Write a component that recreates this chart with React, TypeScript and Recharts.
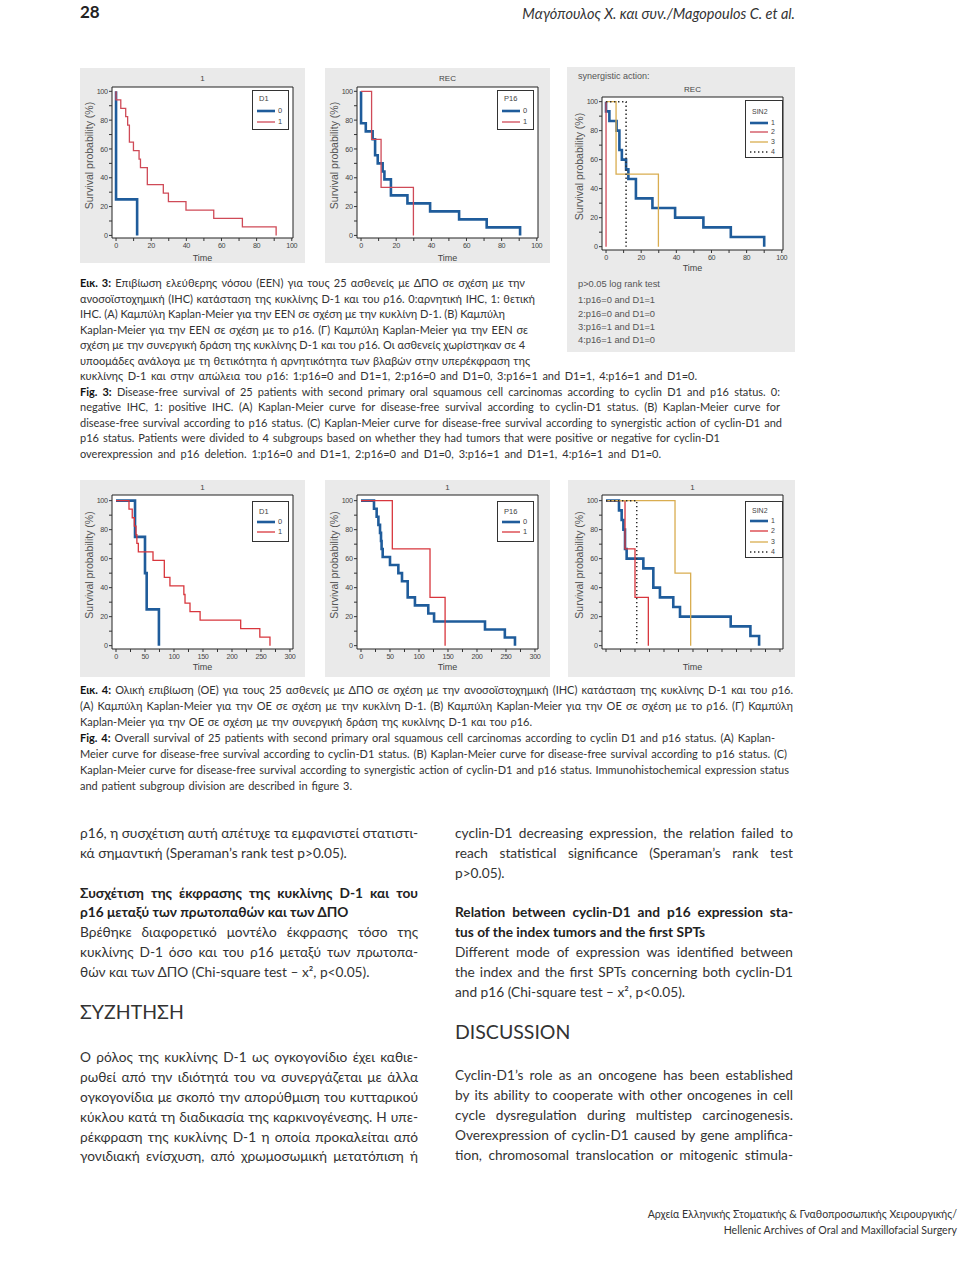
import React from 'react';
import { LineChart, Line, XAxis, YAxis, CartesianGrid, ReferenceArea, Legend } from 'recharts';

const PLOT_FONT = "'Liberation Sans', Arial, Helvetica, sans-serif";
const TEXT_FONT = "Lato, 'Noto Sans', 'Open Sans', sans-serif";

const BLUE = '#1f5c9b';
const RED = '#cf4a57';
const RED_OS = '#d8363d';
const GOLD = '#d9ad50';
const DOTS = '#2a2a2a';
const PANEL_BG = '#eaeaea';

// ---------- Fig. 3: disease-free survival (time, survival %) ----------
const dfsD1Neg = [[0, 100], [0, 25], [12, 0]];
const dfsD1Pos = [[0, 100], [0, 94.1], [2.7, 88.2], [5.5, 82.4], [6.6, 76.5], [7.6, 64.7], [9.9, 58.8], [13.1, 52.9], [13.9, 47.1], [17.8, 35.3], [26.9, 29.4], [29.8, 23.5], [39.8, 17.6], [55.6, 11.8], [71.9, 5.9], [91.1, 0]];
const dfsP16Neg = [[0, 100], [0, 77.8], [2.7, 72.2], [6.6, 66.7], [8, 55.6], [9.5, 50], [12.3, 44.4], [13.3, 38.9], [17, 27.8], [26.4, 22.2], [39.3, 16.7], [55.8, 11.1], [71.5, 5.6], [90.5, 0]];
const dfsP16Pos = [[0, 100], [6, 66.7], [11.4, 33.3], [29.8, 0]];
const dfsSin1 = [[0, 100], [0, 93.3], [1.9, 86.7], [6, 80], [7.6, 66.7], [9, 60], [11.4, 53.3], [12.7, 46.7], [17, 33.3], [26.4, 26.7], [39.3, 20], [55.4, 13.3], [71, 6.7], [90, 0]];
const dfsSin2 = [[0, 100], [0, 0]];
const dfsSin3 = [[0, 100], [5.7, 50], [29.8, 0]];
const dfsSin4 = [[0, 100], [11.4, 0]];

// ---------- Fig. 4: overall survival ----------
const osD1Neg = [[0, 100], [32.8, 75], [50, 50], [52.9, 25], [74, 0]];
const osD1Pos = [[0, 100], [22.4, 94.1], [28, 88.2], [31.6, 82.4], [34.5, 76.5], [36, 70.6], [38.5, 64.7], [63.8, 58.8], [83.3, 47.1], [93, 41.2], [117, 35.3], [119, 29.4], [127.6, 23.5], [145, 17.6], [215, 11.8], [248, 5.9], [265.5, 0]];
const osP16Neg = [[0, 100], [22.4, 94.4], [27, 88.9], [30, 83.3], [32.8, 77.8], [34.5, 72.2], [35.5, 66.7], [37.4, 61.1], [50, 55.6], [64.4, 50], [70.7, 44.4], [80.5, 33.3], [93, 27.8], [116, 22.2], [126, 16.7], [213.8, 11.1], [248, 5.6], [265.5, 0]];
const osP16Pos = [[0, 100], [54, 66.7], [119, 33.3], [145, 0]];
const osSin1 = [[0, 100], [22.4, 93.3], [27, 86.7], [30, 80], [32.8, 66.7], [35.6, 60], [64.4, 53.3], [81.6, 40], [93, 33.3], [116, 26.7], [127.6, 20], [215, 13.3], [249, 6.7], [264, 0]];
const osSin2 = [[0, 100], [32.8, 66.7], [50, 33.3], [73, 0]];
const osSin3 = [[0, 100], [119, 50], [146, 0]];
const osSin4 = [[0, 100], [53, 0]];

const Y_TICKS = [0, 10, 20, 30, 40, 50, 60, 70, 80, 90, 100];
const X_TICKS_DFS = [0, 10, 20, 30, 40, 50, 60, 70, 80, 90, 100];
const X_TICKS_OS = [0, 25, 50, 75, 100, 125, 150, 175, 200, 225, 250, 275, 300];

const toPts = (a: number[][]) => a.map(([t, s]) => ({ t, s }));

type Series = { name: string; data: number[][]; color: string; width: number; dash?: string };
type LegendBox = { left: number; top: number; w: number; h: number; titleY: number; rowY: number; step: number; fs: number };
type PanelDef = {
  x: number; y: number; w: number; h: number;
  m: { top: number; right: number; left: number; bottom: number };
  xDomain: [number, number]; yDomain: [number, number];
  xTicks: number[]; xStep: number; xLabels: boolean; timeOffset: number;
  title: string; titleY: number; legendTitle: string; legend: LegendBox; series: Series[];
  yLabelX: number;
};

const DFS_X: [number, number] = [-2.3, 100.7];
const OS_X: [number, number] = [-6.9, 305.2];

const panels: PanelDef[] = [
  {
    x: 80, y: 68, w: 225, h: 195, m: { top: 19, right: 12, left: 32, bottom: 25 },
    xDomain: DFS_X, yDomain: [-1.8, 103], xTicks: X_TICKS_DFS, xStep: 20, xLabels: true, timeOffset: 2,
    title: '1', titleY: 11, legendTitle: 'D1', yLabelX: 9,
    legend: { left: 172, top: 22, w: 37, h: 40, titleY: 8.3, rowY: 20, step: 10.7, fs: 7.5 },
    series: [
      { name: '0', data: dfsD1Neg, color: BLUE, width: 2.6 },
      { name: '1', data: dfsD1Pos, color: RED, width: 1.3 },
    ],
  },
  {
    x: 325, y: 68, w: 225, h: 195, m: { top: 19, right: 12, left: 32, bottom: 25 },
    xDomain: DFS_X, yDomain: [-1.8, 103], xTicks: X_TICKS_DFS, xStep: 20, xLabels: true, timeOffset: 2,
    title: 'REC', titleY: 11, legendTitle: 'P16', yLabelX: 9,
    legend: { left: 172, top: 22, w: 37, h: 40, titleY: 8.3, rowY: 20, step: 10.7, fs: 7.5 },
    series: [
      { name: '0', data: dfsP16Neg, color: BLUE, width: 2.6 },
      { name: '1', data: dfsP16Pos, color: RED, width: 1.3 },
    ],
  },
  {
    x: 567, y: 67, w: 228, h: 213, m: { top: 30, right: 12, left: 35, bottom: 30 },
    xDomain: DFS_X, yDomain: [-2.3, 103.2], xTicks: X_TICKS_DFS, xStep: 20, xLabels: true, timeOffset: 9,
    title: 'REC', titleY: 23, legendTitle: 'SIN2', yLabelX: 12,
    legend: { left: 178, top: 33, w: 38, h: 58, titleY: 11, rowY: 21.5, step: 9.8, fs: 7 },
    series: [
      { name: '1', data: dfsSin1, color: BLUE, width: 2.6 },
      { name: '2', data: dfsSin2, color: RED, width: 1.3 },
      { name: '3', data: dfsSin3, color: GOLD, width: 1.3 },
      { name: '4', data: dfsSin4, color: DOTS, width: 1.5, dash: '1.4 2.6' },
    ],
  },
  {
    x: 80, y: 480, w: 225, h: 197, m: { top: 15, right: 12, left: 32, bottom: 28 },
    xDomain: OS_X, yDomain: [-2.3, 103.9], xTicks: X_TICKS_OS, xStep: 50, xLabels: true, timeOffset: 6.7,
    title: '1', titleY: 8, legendTitle: 'D1', yLabelX: 9,
    legend: { left: 172, top: 21, w: 37, h: 41, titleY: 10, rowY: 20, step: 10, fs: 7.5 },
    series: [
      { name: '0', data: osD1Neg, color: BLUE, width: 2.6 },
      { name: '1', data: osD1Pos, color: RED_OS, width: 1.3 },
    ],
  },
  {
    x: 325, y: 480, w: 225, h: 197, m: { top: 15, right: 12, left: 32, bottom: 28 },
    xDomain: OS_X, yDomain: [-2.3, 103.9], xTicks: X_TICKS_OS, xStep: 50, xLabels: true, timeOffset: 6.7,
    title: '1', titleY: 8, legendTitle: 'P16', yLabelX: 9,
    legend: { left: 172, top: 21, w: 37, h: 41, titleY: 10, rowY: 20, step: 10, fs: 7.5 },
    series: [
      { name: '0', data: osP16Neg, color: BLUE, width: 2.6 },
      { name: '1', data: osP16Pos, color: RED_OS, width: 1.3 },
    ],
  },
  {
    x: 568, y: 480, w: 227, h: 197, m: { top: 15, right: 12, left: 34, bottom: 28 },
    xDomain: OS_X, yDomain: [-2.3, 103.9], xTicks: X_TICKS_OS, xStep: 50, xLabels: false, timeOffset: 6.7,
    title: '1', titleY: 8, legendTitle: 'SIN2', yLabelX: 11,
    legend: { left: 177, top: 21, w: 38, h: 57, titleY: 9, rowY: 19, step: 10.3, fs: 7 },
    series: [
      { name: '1', data: osSin1, color: BLUE, width: 2.6 },
      { name: '2', data: osSin2, color: RED_OS, width: 1.3 },
      { name: '3', data: osSin3, color: GOLD, width: 1.3 },
      { name: '4', data: osSin4, color: DOTS, width: 1.5, dash: '1.4 2.6' },
    ],
  },
];

function KMPanel({ p }: { p: PanelDef }) {
  const plotW = p.w - p.m.left - p.m.right;
  const plotH = p.h - p.m.top - p.m.bottom;
  const cy = p.m.top + plotH / 2 - 7;
  const lg = p.legend;
  const tickStyle = { fontSize: 7.2, fill: '#444', fontFamily: PLOT_FONT, letterSpacing: -0.4 };
  const renderLegend = (props: any) => {
    const payload = props.payload || [];
    return (
      <div style={{ position: 'relative', width: lg.w, height: lg.h, boxSizing: 'border-box', background: '#fff', border: '1px solid #333', fontFamily: PLOT_FONT, fontSize: lg.fs, color: '#444' }}>
        <div style={{ position: 'absolute', left: 6, top: lg.titleY - 5, lineHeight: '10px' }}>{p.legendTitle}</div>
        {payload.map((e: any, i: number) => (
          <div key={i} style={{ position: 'absolute', left: 4, top: lg.rowY + i * lg.step - 5, height: 10, display: 'flex', alignItems: 'center', lineHeight: '10px' }}>
            <svg width={18} height={6} style={{ display: 'block' }}>
              <line x1={0} x2={18} y1={3} y2={3} stroke={e.color} strokeWidth={e.payload?.strokeWidth ?? 1.3} strokeDasharray={e.payload?.strokeDasharray} />
            </svg>
            <span style={{ marginLeft: 3 }}>{e.value}</span>
          </div>
        ))}
      </div>
    );
  };
  return (
    <div style={{ position: 'absolute', left: p.x, top: p.y, width: p.w, height: p.h }}>
      <div style={{ position: 'absolute', left: p.m.left, width: plotW, top: p.titleY - 6, lineHeight: '12px', textAlign: 'center', fontFamily: PLOT_FONT, fontSize: 8, color: '#444' }}>{p.title}</div>
      <LineChart width={p.w} height={p.h} margin={{ top: p.m.top, right: p.m.right, bottom: 0, left: 0 }}>
        <CartesianGrid fill="#fff" stroke="none" />
        <XAxis
          type="number" dataKey="t" domain={p.xDomain} ticks={p.xTicks} interval={0} allowDataOverflow
          height={p.m.bottom} tickSize={3} tickMargin={1.5} axisLine={false} tickLine={{ stroke: '#333' }}
          tickFormatter={(v: number) => (p.xLabels && v % p.xStep === 0 ? String(v) : '')}
          tick={tickStyle}
          label={{ value: 'Time', position: 'insideBottom', offset: p.timeOffset, fontSize: 9, fill: '#444', fontFamily: PLOT_FONT }}
        />
        <YAxis
          type="number" dataKey="s" domain={p.yDomain} ticks={Y_TICKS} interval={0} allowDataOverflow
          width={p.m.left} tickSize={3} tickMargin={1.5} axisLine={false} tickLine={{ stroke: '#333' }}
          tickFormatter={(v: number) => (v % 20 === 0 ? String(v) : '')}
          tick={tickStyle}
          label={{
            content: () => (
              <text x={p.yLabelX} y={cy} transform={`rotate(-90 ${p.yLabelX} ${cy})`} textAnchor="middle" dominantBaseline="central" fontSize={10.5} fill="#555" fontFamily={PLOT_FONT}>
                Survival probability (%)
              </text>
            ),
          }}
        />
        <ReferenceArea x1={p.xDomain[0]} x2={p.xDomain[1]} y1={p.yDomain[0]} y2={p.yDomain[1]} fill="none" stroke="#222" strokeWidth={1} ifOverflow="visible" />
        {p.series.map((s) => (
          <Line
            key={s.name} name={s.name} data={toPts(s.data)} dataKey="s" type="stepAfter"
            stroke={s.color} strokeWidth={s.width} strokeDasharray={s.dash} dot={false} activeDot={false}
            isAnimationActive={false} strokeLinecap="butt"
          />
        ))}
        <Legend
          layout="horizontal" verticalAlign="middle" align="center" content={renderLegend}
          wrapperStyle={{ position: 'absolute', left: lg.left, top: lg.top, width: lg.w, height: lg.h }}
        />
      </LineChart>
    </div>
  );
}

// ---------- page text ----------
type Cap = { y: number; x1: number; b?: string; t: string };
const CAP3: Cap[] = [
  { y: 283, x1: 525, b: 'Εικ. 3:', t: ' Επιβίωση ελεύθερης νόσου (ΕΕΝ) για τους 25 ασθενείς με ΔΠΟ σε σχέση με την' },
  { y: 298.5, x1: 535, t: 'ανοσοϊστοχημική (IHC) κατάσταση της κυκλίνης D-1 και του ρ16. 0:αρνητική IHC, 1: θετική' },
  { y: 314, x1: 505, t: 'IHC. (A) Καμπύλη Kaplan-Meier για την ΕΕΝ σε σχέση με την κυκλίνη D-1. (B) Καμπύλη' },
  { y: 329.5, x1: 528, t: 'Kaplan-Meier για την ΕΕΝ σε σχέση με το ρ16. (Γ) Καμπύλη Kaplan-Meier για την ΕΕΝ σε' },
  { y: 345, x1: 519, t: 'σχέση με την συνεργική δράση της κυκλίνης D-1 και του ρ16. Οι ασθενείς χωρίστηκαν σε 4' },
  { y: 360.5, x1: 530, t: 'υποομάδες ανάλογα με τη θετικότητα ή αρνητικότητα των βλαβών στην υπερέκφραση της' },
  { y: 376, x1: 697, t: 'κυκλίνης D-1 και στην απώλεια του ρ16: 1:p16=0 and D1=1, 2:p16=0 and D1=0, 3:p16=1 and D1=1, 4:p16=1 and D1=0.' },
  { y: 391.5, x1: 780, b: 'Fig. 3:', t: ' Disease-free survival of 25 patients with second primary oral squamous cell carcinomas according to cyclin D1 and p16 status. 0:' },
  { y: 407, x1: 780, t: 'negative IHC, 1: positive IHC. (A) Kaplan-Meier curve for disease-free survival according to cyclin-D1 status. (B) Kaplan-Meier curve for' },
  { y: 422.5, x1: 782, t: 'disease-free survival according to p16 status. (C) Kaplan-Meier curve for disease-free survival according to synergistic action of cyclin-D1 and' },
  { y: 438, x1: 720, t: 'p16 status. Patients were divided to 4 subgroups based on whether they had tumors that were positive or negative for cyclin-D1' },
  { y: 453.5, x1: 661, t: 'overexpression and p16 deletion. 1:p16=0 and D1=1, 2:p16=0 and D1=0, 3:p16=1 and D1=1, 4:p16=1 and D1=0.' },
];
const CAP4: Cap[] = [
  { y: 690, x1: 793, b: 'Εικ. 4:', t: ' Ολική επιβίωση (ΟΕ) για τους 25 ασθενείς με ΔΠΟ σε σχέση με την ανοσοϊστοχημική (IHC) κατάσταση της κυκλίνης D-1 και του ρ16.' },
  { y: 706, x1: 793, t: '(A) Καμπύλη Kaplan-Meier για την ΟΕ σε σχέση με την κυκλίνη D-1. (B) Καμπύλη Kaplan-Meier για την ΟΕ σε σχέση με το ρ16. (Γ) Καμπύλη' },
  { y: 722, x1: 532, t: 'Kaplan-Meier για την ΟΕ σε σχέση με την συνεργική δράση της κυκλίνης D-1 και του ρ16.' },
  { y: 738, x1: 775, b: 'Fig. 4:', t: ' Overall survival of 25 patients with second primary oral squamous cell carcinomas according to cyclin D1 and p16 status. (A) Kaplan-' },
  { y: 754, x1: 787, t: 'Meier curve for disease-free survival according to cyclin-D1 status. (B) Kaplan-Meier curve for disease-free survival according to p16 status. (C)' },
  { y: 770, x1: 789, t: 'Kaplan-Meier curve for disease-free survival according to synergistic action of cyclin-D1 and p16 status. Immunohistochemical expression status' },
  { y: 786, x1: 352, t: 'and patient subgroup division are described in figure 3.' },
];

type Body = { y: number; t: string; j?: boolean; bold?: boolean; head?: boolean };
const BODY_LEFT: Body[] = [
  { y: 833, t: 'ρ16, η συσχέτιση αυτή απέτυχε τα εμφανιστεί στατιστι-', j: true },
  { y: 853, t: 'κά σημαντική (Speraman’s rank test p>0.05).' },
  { y: 893, t: 'Συσχέτιση της έκφρασης της  κυκλίνης D-1 και  του', j: true, bold: true },
  { y: 912, t: 'ρ16 μεταξύ των πρωτοπαθών και των ΔΠΟ', bold: true },
  { y: 932, t: 'Βρέθηκε διαφορετικό μοντέλο έκφρασης τόσο της', j: true },
  { y: 952, t: 'κυκλίνης D-1 όσο και του ρ16 μεταξύ των πρωτοπα-', j: true },
  { y: 972, t: 'θών και των ΔΠΟ (Chi-square test – x², p<0.05).' },
  { y: 1012, t: 'ΣΥΖΗΤΗΣΗ', head: true },
  { y: 1057, t: 'Ο ρόλος της κυκλίνης D-1 ως ογκογονίδιο έχει καθιε-', j: true },
  { y: 1077, t: 'ρωθεί από την ιδιότητά του να συνεργάζεται με άλλα', j: true },
  { y: 1097, t: 'ογκογονίδια με σκοπό την απορύθμιση του κυτταρικού', j: true },
  { y: 1117, t: 'κύκλου κατά τη διαδικασία της καρκινογένεσης. Η υπε-', j: true },
  { y: 1137, t: 'ρέκφραση της κυκλίνης D-1 η οποία προκαλείται από', j: true },
  { y: 1156, t: 'γονιδιακή ενίσχυση, από χρωμοσωμική μετατόπιση ή', j: true },
];
const BODY_RIGHT: Body[] = [
  { y: 833, t: 'cyclin-D1 decreasing expression, the relation failed to', j: true },
  { y: 853, t: 'reach statistical significance (Speraman’s rank test', j: true },
  { y: 873, t: 'p>0.05).' },
  { y: 912, t: 'Relation between cyclin-D1 and p16 expression sta-', j: true, bold: true },
  { y: 932, t: 'tus of the index tumors and the first SPTs', bold: true },
  { y: 952, t: 'Different mode of expression was identified between', j: true },
  { y: 972, t: 'the index and the first SPTs concerning both cyclin-D1', j: true },
  { y: 992, t: 'and p16 (Chi-square test – x², p<0.05).' },
  { y: 1032, t: 'DISCUSSION', head: true },
  { y: 1075, t: 'Cyclin-D1’s role as an oncogene has been established', j: true },
  { y: 1095, t: 'by its ability to cooperate with other oncogenes in cell', j: true },
  { y: 1115, t: 'cycle dysregulation during multistep carcinogenesis.', j: true },
  { y: 1135, t: 'Overexpression of cyclin-D1 caused by gene amplifica-', j: true },
  { y: 1155, t: 'tion, chromosomal translocation or mitogenic stimula-', j: true },
];

const SYN_NOTES = ['p>0.05 log rank test', '1:p16=0 and D1=1', '2:p16=0 and D1=0', '3:p16=1 and D1=1', '4:p16=1 and D1=0'];
const SYN_NOTES_Y = [284, 300, 313.5, 327, 340];

function CapLine({ c }: { c: Cap }) {
  return (
    <div style={{ position: 'absolute', left: 80, top: c.y - 8, width: c.x1 - 80, height: 16, lineHeight: '16px', whiteSpace: 'nowrap', textAlign: 'justify', textAlignLast: 'justify', fontFamily: TEXT_FONT, fontSize: 11, color: '#333' }}>
      {c.b ? <b style={{ color: '#111' }}>{c.b}</b> : null}
      {c.t}
    </div>
  );
}

function BodyLine({ b, x, w }: { b: Body; x: number; w: number }) {
  const size = b.head ? 19.5 : 13.7;
  const h = b.head ? 26 : 20;
  return (
    <div style={{ position: 'absolute', left: x, top: b.y - h / 2, width: w, height: h, lineHeight: `${h}px`, whiteSpace: 'nowrap', textAlign: b.j ? 'justify' : 'left', textAlignLast: b.j ? 'justify' : 'left', fontFamily: TEXT_FONT, fontSize: size, fontWeight: b.bold ? 700 : 400, color: b.bold ? '#222' : '#333' }}>
      {b.t}
    </div>
  );
}

export default function App() {
  return (
    <div style={{ position: 'absolute', left: 0, top: 0, width: 960, height: 1286, background: '#fff', overflow: 'hidden' }}>
      {/* header */}
      <div style={{ position: 'absolute', left: 80, top: 1, fontFamily: TEXT_FONT, fontSize: 17, fontWeight: 700, color: '#222', lineHeight: '22px' }}>28</div>
      <div style={{ position: 'absolute', left: 400, width: 395, top: 4, textAlign: 'right', fontFamily: TEXT_FONT, fontSize: 14.5, fontStyle: 'italic', color: '#333', lineHeight: '20px' }}>
        Μαγόπουλος Χ. και συν./Magopoulos C. et al.
      </div>

      {/* panel backgrounds */}
      <div style={{ position: 'absolute', left: 80, top: 68, width: 225, height: 195, background: PANEL_BG }} />
      <div style={{ position: 'absolute', left: 325, top: 68, width: 225, height: 195, background: PANEL_BG }} />
      <div style={{ position: 'absolute', left: 567, top: 67, width: 228, height: 285, background: PANEL_BG }} />
      <div style={{ position: 'absolute', left: 80, top: 480, width: 225, height: 197, background: PANEL_BG }} />
      <div style={{ position: 'absolute', left: 325, top: 480, width: 225, height: 197, background: PANEL_BG }} />
      <div style={{ position: 'absolute', left: 568, top: 480, width: 227, height: 197, background: PANEL_BG }} />

      {panels.map((p, i) => (
        <KMPanel key={i} p={p} />
      ))}

      <div style={{ position: 'absolute', left: 578, top: 70, fontFamily: PLOT_FONT, fontSize: 9, color: '#555', lineHeight: '12px' }}>synergistic action:</div>
      {SYN_NOTES.map((s, i) => (
        <div key={i} style={{ position: 'absolute', left: 578, top: SYN_NOTES_Y[i] - 6, fontFamily: PLOT_FONT, fontSize: 9.3, color: '#555', lineHeight: '12px', whiteSpace: 'nowrap' }}>{s}</div>
      ))}

      {CAP3.map((c, i) => <CapLine key={'c3' + i} c={c} />)}
      {CAP4.map((c, i) => <CapLine key={'c4' + i} c={c} />)}

      {BODY_LEFT.map((b, i) => <BodyLine key={'bl' + i} b={b} x={80} w={338} />)}
      {BODY_RIGHT.map((b, i) => <BodyLine key={'br' + i} b={b} x={455} w={338} />)}

      {/* footer */}
      <div style={{ position: 'absolute', left: 500, width: 457, top: 1206, textAlign: 'right', fontFamily: TEXT_FONT, fontSize: 10.6, color: '#333', lineHeight: '16px' }}>
        Αρχεία Ελληνικής Στοματικής &amp; Γναθοπροσωπικής Χειρουργικής/
      </div>
      <div style={{ position: 'absolute', left: 500, width: 457, top: 1222, textAlign: 'right', fontFamily: TEXT_FONT, fontSize: 10.6, color: '#333', lineHeight: '16px' }}>
        Hellenic Archives of Oral and Maxillofacial Surgery
      </div>
    </div>
  );
}
